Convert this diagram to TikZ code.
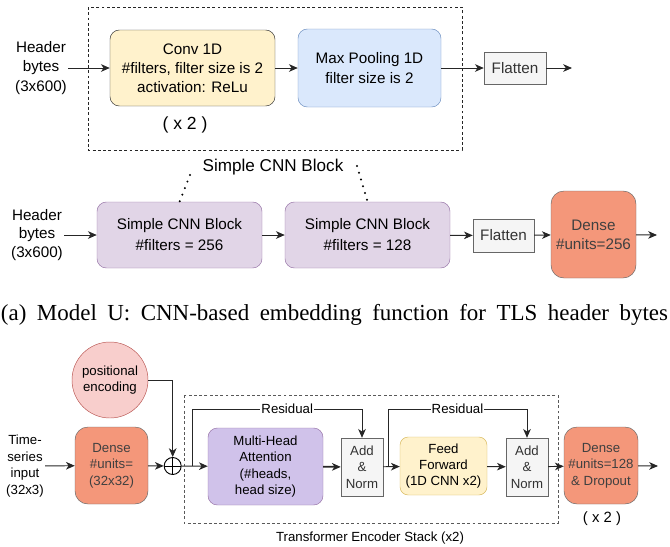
\documentclass[tikz,border=0pt]{standalone}
\usepackage{fontspec}
\setmainfont{Liberation Serif}
\setsansfont{Liberation Sans}
\usepackage{tikz,xcolor}
\usetikzlibrary{calc,arrows.meta}
\definecolor{convfill}{HTML}{FFF2CC}
\definecolor{ffline}{HTML}{D6B656}
\definecolor{poolfill}{HTML}{DAE8FC}
\definecolor{poolline}{HTML}{6C8EBF}
\definecolor{flatfill}{HTML}{F5F5F5}
\definecolor{flatline}{HTML}{666666}
\definecolor{blkfill}{HTML}{E1D5E7}
\definecolor{blkline}{HTML}{9673A6}
\definecolor{mhafill}{HTML}{D0C2EA}
\definecolor{densefill}{HTML}{F4977A}
\definecolor{posfill}{HTML}{F8CECC}
\definecolor{posline}{HTML}{B85450}
\tikzset{
    lg/.style={font=\sffamily\fontsize{13}{16.4}\selectfont,align=center,inner sep=1pt},
    sm/.style={font=\sffamily\fontsize{11.3}{14}\selectfont,align=center,inner sep=1pt},
    sz/.style 2 args={draw,inner sep=0pt,minimum width=#1*0.03cm,minimum height=#2*0.03cm},
    convbox/.style={lg,rounded corners=8pt,fill=convfill,draw=black!80},
    poolbox/.style={lg,rounded corners=8pt,fill=poolfill,draw=poolline},
    flatbox/.style={fill=flatfill,draw=flatline,text=black!80},
    blkbox/.style={lg,font=\sffamily\fontsize{13}{18}\selectfont,rounded corners=8pt,fill=blkfill,draw=blkline},
    densebox/.style={rounded corners=11pt,fill=densefill,draw=flatline,text=black!75},
    link/.style={->,draw=black!85,line width=0.8pt},
    dotline/.style={line width=1.9pt,line cap=round,dash pattern=on 0pt off 6pt},
    resid/.style={sm,fill=white,inner sep=1pt}
}

\begin{document}
\begin{tikzpicture}[x=0.03cm,y=-0.03cm,>={Stealth[length=7.5pt,width=6.5pt,inset=2.2pt]}]
            \useasboundingbox (0,0) rectangle (670,546);
            \draw[black!85,line width=0.7pt,dash pattern=on 2.5pt off 2pt] (88,7) rectangle (462,150);
            \node[lg] (hdrA) at (41,68) {Header\\bytes\\(3x600)};
            \node[convbox,sz={165}{76}] (conv) at (192.5,68) {Conv 1D\\\#filters, filter size is 2\\activation: ReLu};
            \node[poolbox,sz={143}{78}] (pool) at (369.5,68) {Max Pooling 1D\\filter size is 2};
            \node[lg,flatbox,sz={62}{32}] (flatA) at (515,68) {Flatten};
            \coordinate (outA) at (572,68);
            \node[lg,font=\sffamily\fontsize{15}{18}\selectfont] (repA) at (185,125) {( x 2 )};
            \foreach \a/\b in {hdrA/conv,conv/pool,pool/flatA,flatA/outA}{
                \draw[link] (\a) -- (\b);
            }
            \node[lg,font=\sffamily\fontsize{14.6}{17}\selectfont] (lblA) at (273,167) {Simple CNN Block};
            \node[lg,font=\sffamily\fontsize{13}{15.8}\selectfont] (hdrB) at (37,235) {Header\\bytes\\(3x600)};
            \node[blkbox,sz={165}{66}] (blkA) at (179.5,235) {Simple CNN Block\\\#filters = 256};
            \node[blkbox,sz={165}{66}] (blkB) at (367.5,235) {Simple CNN Block\\\#filters = 128};
            \node[lg,flatbox,sz={61}{33}] (flatB) at (503.5,235.5) {Flatten};
            \node[lg,densebox,sz={85}{87}] (denseA) at (593.5,234.5) {Dense\\\#units=256};
            \coordinate (outB) at (657,235);
            \foreach \a/\b in {hdrB/blkA,blkA/blkB,blkB/flatB,flatB/denseA,denseA/outB}{
                \draw[link] (\a) -- (\b);
            }
            \coordinate (dA) at (190,175);
            \coordinate (dB) at (357,166);
            \draw[dotline] (dA) -- (blkA.north);
            \draw[dotline] (dB) -- (blkB.north);
            \node[anchor=base,font=\rmfamily\fontsize{19.6}{24}\selectfont,inner sep=0pt] (capA) at (334.5,320)
                {\makebox[20.01cm][s]{(a) Model U: CNN-based embedding function for TLS header bytes}};
            \draw[black!65,line width=0.7pt,dash pattern=on 2.5pt off 2pt] (184,395) rectangle (558,523);
            \node[sm,circle,fill=posfill,draw=posline,minimum size=2.28cm,inner sep=0pt] (posenc) at (110,380) {positional\\encoding};
            \node[sm] (tsin) at (25,466) {Time-\\series\\input\\(32x3)};
            \node[sm,densebox,sz={73}{77}] (denseB) at (111.5,465.5) {Dense\\\#units=\\(32x32)};
            \node[circle,draw,line width=0.8pt,minimum size=0.51cm,inner sep=0pt,
                path picture={\draw[line width=0.8pt] (path picture bounding box.north) -- (path picture bounding box.south)
                (path picture bounding box.west) -- (path picture bounding box.east);}] (oplus) at (172.7,466) {};
            \node[sm,rounded corners=8pt,fill=mhafill,draw=blkline,sz={115}{77}] (mha) at (265.5,466.5) {Multi-Head\\Attention\\(\#heads,\\head size)};
            \node[sm,flatbox,sz={42}{58}] (addA) at (362,467) {Add\\\&\\Norm};
            \node[sm,rounded corners=7pt,fill=convfill,draw=ffline,sz={87}{58}] (ff) at (443.5,466) {Feed\\Forward\\(1D CNN x2)};
            \node[sm,flatbox,sz={42}{58}] (addB) at (527,467) {Add\\\&\\Norm};
            \node[sm,densebox,sz={74}{77}] (denseC) at (601,465.5) {Dense\\\#units=128\\\& Dropout};
            \coordinate (outC) at (658,466);
            \node[sm,font=\sffamily\fontsize{12.7}{15}\selectfont] (repB) at (602,519) {( x 2 )};
            \node[sm] (stack) at (370,538) {Transformer Encoder Stack (x2)};
            \draw[link] (posenc.east) -| (oplus.north);
            \foreach \a/\b in {tsin/denseB,denseB/oplus,oplus/mha,addA/ff,ff/addB,addB/denseC,denseC/outC}{
                \draw[link] (\a) -- (\b);
            }
            \draw[link,line width=1.5pt] (mha) -- (addA);
            \coordinate (rA) at (192,466);
            \coordinate (rAt) at (192,409);
            \coordinate (rB) at (388,466);
            \coordinate (rBt) at (388,409);
            \draw[link] (rA) -- (rAt) -- node[resid,pos=0.56]{Residual} (rAt -| addA.north) -- (addA.north);
            \draw[link] (rB) -- (rBt) -- node[resid]{Residual} (rBt -| addB.north) -- (addB.north);
        \end{tikzpicture}
\end{document}
